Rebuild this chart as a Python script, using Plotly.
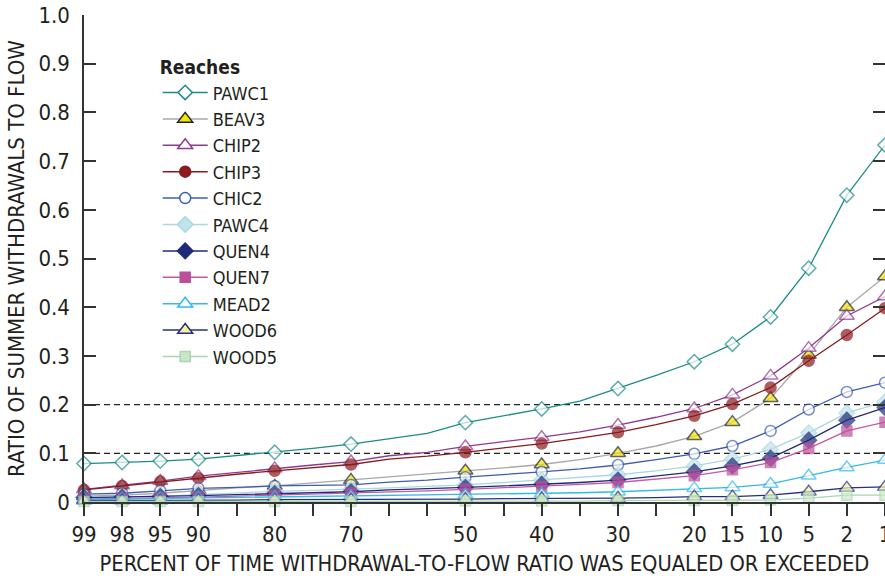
import plotly.graph_objects as go

# Exceedance percent categories (x axis); only some are labeled
categories = ["99", "98", "95", "90", "85", "80", "75", "70", "60", "55", "50",
              "45", "40", "35", "30", "25", "20", "15", "10", "5", "2", "1"]
labeled = ["99", "98", "95", "90", "80", "70", "50", "40", "30", "20", "15",
           "10", "5", "2", "1"]

y_ticks = [0, 0.1, 0.2, 0.3, 0.4, 0.5, 0.6, 0.7, 0.8, 0.9, 1.0]
y_ticktext = ["0", "0.1", "0.2", "0.3", "0.4", "0.5", "0.6", "0.7", "0.8", "0.9", "1.0"]
reference_levels = [0.1, 0.2]

PAWC1 = [0.079, 0.081, 0.084, 0.088, 0.095, 0.102, 0.110, 0.119, 0.130, 0.141, 0.163,
         0.177, 0.191, 0.207, 0.233, 0.260, 0.288, 0.324, 0.380, 0.480, 0.630, 0.733]
BEAV3 = [0.012, 0.014, 0.018, 0.024, 0.029, 0.033, 0.039, 0.045, 0.052, 0.057, 0.064,
         0.070, 0.077, 0.087, 0.100, 0.115, 0.135, 0.164, 0.213, 0.302, 0.400, 0.463]
CHIP2 = [0.026, 0.034, 0.043, 0.053, 0.061, 0.069, 0.076, 0.083, 0.095, 0.102, 0.114,
         0.124, 0.133, 0.144, 0.158, 0.174, 0.192, 0.220, 0.259, 0.316, 0.382, 0.422]
CHIP3 = [0.025, 0.033, 0.042, 0.049, 0.057, 0.064, 0.071, 0.077, 0.088, 0.094, 0.102,
         0.111, 0.120, 0.131, 0.143, 0.159, 0.177, 0.201, 0.235, 0.290, 0.343, 0.398]
CHIC2 = [0.016, 0.018, 0.023, 0.028, 0.030, 0.033, 0.034, 0.035, 0.041, 0.045, 0.051,
         0.056, 0.062, 0.068, 0.076, 0.087, 0.099, 0.115, 0.146, 0.190, 0.226, 0.245]
PAWC4 = [0.009, 0.010, 0.012, 0.015, 0.019, 0.022, 0.024, 0.026, 0.029, 0.032, 0.035,
         0.040, 0.045, 0.050, 0.056, 0.064, 0.074, 0.088, 0.108, 0.142, 0.183, 0.206]
QUEN4 = [0.009, 0.010, 0.011, 0.013, 0.015, 0.017, 0.019, 0.021, 0.025, 0.027, 0.030,
         0.033, 0.036, 0.040, 0.045, 0.053, 0.062, 0.074, 0.090, 0.127, 0.168, 0.194]
QUEN7 = [0.006, 0.007, 0.008, 0.010, 0.012, 0.014, 0.016, 0.018, 0.021, 0.023, 0.026,
         0.029, 0.032, 0.036, 0.040, 0.047, 0.054, 0.066, 0.081, 0.110, 0.146, 0.164]
MEAD2 = [0.005, 0.006, 0.007, 0.008, 0.009, 0.010, 0.011, 0.012, 0.013, 0.014, 0.015,
         0.016, 0.017, 0.019, 0.021, 0.024, 0.028, 0.030, 0.037, 0.054, 0.071, 0.086]
WOOD6 = [0.003, 0.003, 0.003, 0.004, 0.004, 0.005, 0.005, 0.005, 0.006, 0.006, 0.006,
         0.007, 0.007, 0.008, 0.008, 0.009, 0.011, 0.011, 0.014, 0.021, 0.029, 0.031]
WOOD5 = [0.001, 0.001, 0.001, 0.001, 0.001, 0.001, 0.001, 0.001, 0.002, 0.002, 0.002,
         0.002, 0.002, 0.002, 0.003, 0.003, 0.003, 0.003, 0.004, 0.008, 0.014, 0.014]

series = [("PAWC1", PAWC1), ("BEAV3", BEAV3), ("CHIP2", CHIP2), ("CHIP3", CHIP3),
          ("CHIC2", CHIC2), ("PAWC4", PAWC4), ("QUEN4", QUEN4), ("QUEN7", QUEN7),
          ("MEAD2", MEAD2), ("WOOD6", WOOD6), ("WOOD5", WOOD5)]

# style: line color, marker symbol, marker fill, marker outline, marker size
styles = {
    "PAWC1": ("#1b8c87", "diamond", "white", "#1b8c87", 11),
    "BEAV3": ("#a8a8a8", "triangle-up", "#f4e600", "#222222", 13),
    "CHIP2": ("#8e3a92", "triangle-up", "white", "#8e3a92", 13),
    "CHIP3": ("#8a1a1e", "circle", "#8a1a1e", "#8a1a1e", 11),
    "CHIC2": ("#3d5db0", "circle", "white", "#3d5db0", 11),
    "PAWC4": ("#a9d8df", "diamond", "#c2e3ea", "#a9d8df", 12),
    "QUEN4": ("#1f2a78", "diamond", "#1f2a78", "#1f2a78", 12),
    "QUEN7": ("#c458a3", "square", "#bc4f9b", "#bc4f9b", 10),
    "MEAD2": ("#33b9ea", "triangle-up", "white", "#33b9ea", 13),
    "WOOD6": ("#26307e", "triangle-up", "#f7f0a0", "#26307e", 13),
    "WOOD5": ("#a8d6b2", "square", "#cbe7c8", "#a8d6b2", 10),
}

FONT = "Liberation Sans Narrow, DejaVu Sans Condensed, Arial Narrow, sans-serif"
TXT = "#231f20"

fig = go.Figure()
for name, vals in series:
    lc, sym, fill, outline, size = styles[name]
    sizes = [size if c in labeled else 0 for c in categories]
    fig.add_trace(go.Scatter(
        x=categories, y=vals, name=name, mode="lines+markers", showlegend=False,
        legendgroup=name,
        line=dict(color=lc, width=1.3),
        marker=dict(symbol=sym, size=sizes, color=fill,
                    line=dict(color=outline, width=1.5)),
        cliponaxis=False,
    ))

# legend entries (line + marker sample for each reach)
for name, vals in series:
    lc, sym, fill, outline, size = styles[name]
    fig.add_trace(go.Scatter(
        x=[None], y=[None], name=name, mode="lines+markers", legendgroup=name,
        line=dict(color=lc, width=1.5),
        marker=dict(symbol=sym, size=size, color=fill,
                    line=dict(color=outline, width=1.5)),
    ))

for lvl in reference_levels:
    fig.add_shape(type="line", xref="paper", x0=0, x1=1, yref="y", y0=lvl, y1=lvl,
                  line=dict(color="#222222", width=1.3, dash="6px,4px"), layer="below")

axis_common = dict(showgrid=False, zeroline=False, showline=True,
                   linecolor="#333333", linewidth=1.5, tickcolor="#333333",
                   tickwidth=1.5, ticklen=12)

fig.update_layout(
    width=885, height=576, autosize=False,
    margin=dict(l=84, r=0, t=15, b=74),
    paper_bgcolor="white", plot_bgcolor="white",
    font=dict(family=FONT, size=21, color=TXT),
    showlegend=True,
    legend=dict(x=0.092, y=0.929, xanchor="left", yanchor="top",
                bgcolor="rgba(0,0,0,0)", itemwidth=45, itemsizing="trace",
                font=dict(family=FONT, size=18, color=TXT),
                title=dict(text="<b>Reaches</b>", font=dict(family=FONT, size=19, color=TXT)),
                tracegroupgap=0),
    xaxis=dict(type="category", categoryorder="array", categoryarray=categories,
               range=[0, len(categories) - 1], tickmode="array", tickvals=categories,
               ticktext=[c if c in labeled else "" for c in categories],
               ticks="outside", ticklabelstandoff=0,
               tickfont=dict(family=FONT, size=22, color=TXT),
               title=dict(text="PERCENT OF TIME WITHDRAWAL-TO-FLOW RATIO WAS EQUALED OR EXCEEDED",
                          font=dict(family=FONT, size=21.7, color=TXT), standoff=18),
               automargin=False, **axis_common),
    xaxis2=dict(overlaying="x", side="top", range=[0, len(categories) - 1],
                tickmode="array", tickvals=list(range(len(categories))),
                showticklabels=False, ticks="inside", automargin=False, **axis_common),
    yaxis=dict(range=[0, 1.0], tickmode="array", tickvals=y_ticks, ticktext=y_ticktext,
               ticks="inside", mirror="ticks", ticklabelstandoff=8,
               tickfont=dict(family=FONT, size=22, color=TXT),
               title=dict(text="RATIO OF SUMMER WITHDRAWALS TO FLOW",
                          font=dict(family=FONT, size=22, color=TXT), standoff=8),
               automargin=False, **axis_common),
)

fig.write_html("out.html")
